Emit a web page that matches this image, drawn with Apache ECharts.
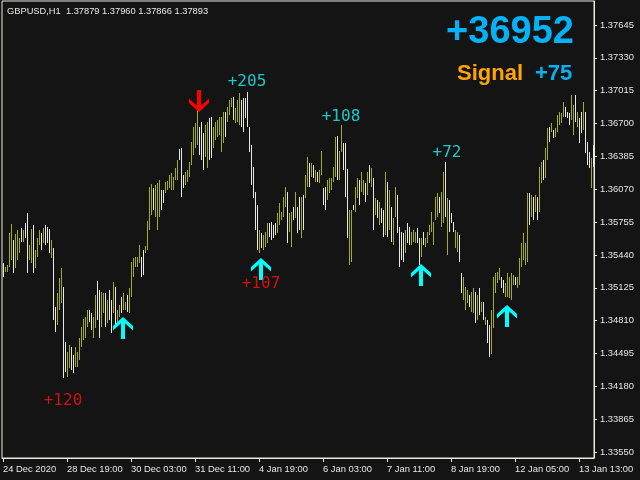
<!DOCTYPE html>
<html><head><meta charset="utf-8">
<script src="https://cdn.jsdelivr.net/npm/echarts@6/dist/echarts.min.js"></script>
<style>html,body{margin:0;padding:0;background:#141414}#c{width:640px;height:480px}</style>
</head><body><div id="c"></div>
<script>
// ---- data (GBPUSD H1) ----
const highs = [
1.35365,1.35327,1.35343,1.35646,1.35736,1.35582,1.35640,1.35678,1.35598,1.35694,
1.35678,1.35742,1.35838,1.35534,1.35688,1.35726,1.35487,1.35598,1.35678,1.35646,
1.35694,1.35726,1.35710,1.35685,1.35582,1.35503,1.34943,1.35071,1.35215,1.35311,
1.35135,1.34607,1.34511,1.34575,1.34559,1.34479,1.34559,1.34511,1.34639,1.34751,
1.34822,1.34847,1.34911,1.34911,1.34879,1.34847,1.35055,1.35189,1.35103,1.35087,
1.35071,1.35071,1.35007,1.35103,1.35007,1.35183,1.35135,1.34911,1.34959,1.35039,
1.35071,1.34991,1.35055,1.35119,1.35375,1.35407,1.35423,1.35423,1.35534,1.35423,
1.35487,1.35525,1.35768,1.36094,1.36120,1.36078,1.36110,1.36126,1.36158,1.36062,
1.36062,1.36142,1.36148,1.36206,1.36222,1.36190,1.36270,1.36350,1.36452,1.36462,
1.36206,1.36238,1.36254,1.36334,1.36526,1.36669,1.36701,1.36829,1.36669,1.36717,
1.36605,1.36685,1.36717,1.36749,1.36765,1.36669,1.36717,1.36733,1.36765,1.36765,
1.36813,1.36813,1.36861,1.36925,1.36941,1.36957,1.36845,1.36925,1.36996,1.36925,
1.36941,1.36941,1.37005,1.36669,1.36494,1.36286,1.36046,1.35918,1.35678,1.35653,
1.35630,1.35662,1.35749,1.35749,1.35758,1.35726,1.35742,1.35845,1.35934,1.35854,
1.35998,1.36094,1.36046,1.35838,1.35854,1.35902,1.36046,1.35902,1.35998,1.35998,
1.36014,1.36206,1.36382,1.36318,1.36318,1.36302,1.36254,1.36238,1.36254,1.36436,
1.36078,1.36094,1.36158,1.36174,1.36174,1.36279,1.36574,1.36580,1.36439,1.36685,
1.36510,1.36510,1.36260,1.35870,1.35870,1.35918,1.36094,1.36174,1.36158,1.36238,
1.36158,1.36126,1.36238,1.36302,1.36270,1.36174,1.35982,1.35966,1.35950,1.35886,
1.35870,1.36238,1.36142,1.36062,1.35902,1.35790,1.36094,1.36014,1.35710,1.35662,
1.35646,1.35678,1.35742,1.35710,1.35662,1.35678,1.35662,1.35694,1.35598,1.35598,
1.35662,1.35598,1.35662,1.35726,1.35854,1.35758,1.35998,1.36030,1.35998,1.36046,
1.36238,1.36334,1.35982,1.35966,1.35839,1.35758,1.35678,1.35662,1.35630,1.35263,
1.35231,1.35135,1.35103,1.35055,1.35087,1.35119,1.35087,1.35055,1.35119,1.34991,
1.34991,1.34847,1.34815,1.34767,1.34911,1.35231,1.35263,1.35279,1.35311,1.35231,
1.35199,1.35167,1.35263,1.35231,1.35263,1.35247,1.35231,1.35231,1.35407,1.35551,
1.35646,1.35551,1.36030,1.36030,1.36014,1.35998,1.36014,1.35998,1.36286,1.36334,
1.36350,1.36462,1.36653,1.36669,1.36701,1.36638,1.36653,1.36781,1.36813,1.36797,
1.36909,1.36861,1.36813,1.36797,1.36973,1.36877,1.36973,1.36813,1.36749,1.36813,
1.36909,1.36813,1.36526,1.36430,1.36366,1.36494
];
const lows = [
1.35231,1.35279,1.35279,1.35327,1.35391,1.35263,1.35311,1.35391,1.35455,1.35566,
1.35566,1.35598,1.35269,1.35391,1.35359,1.35269,1.35311,1.35423,1.35534,1.35487,
1.35550,1.35534,1.35550,1.35455,1.35407,1.34815,1.34703,1.34767,1.34911,1.34975,
1.34256,1.34320,1.34272,1.34352,1.34336,1.34304,1.34368,1.34368,1.34432,1.34559,
1.34623,1.34639,1.34751,1.34799,1.34719,1.34639,1.34735,1.34815,1.34639,1.34751,
1.34879,1.34751,1.34783,1.34815,1.34687,1.34879,1.34767,1.34783,1.34847,1.34879,
1.34911,1.34911,1.34895,1.34879,1.35039,1.35231,1.35327,1.35327,1.35359,1.35231,
1.35247,1.35455,1.35487,1.35678,1.35822,1.35870,1.35806,1.35678,1.35806,1.35870,
1.35934,1.36030,1.36062,1.36078,1.36062,1.36062,1.36158,1.36158,1.36350,1.35998,
1.36078,1.36110,1.36142,1.36190,1.36302,1.36398,1.36462,1.36494,1.36398,1.36350,
1.36254,1.36382,1.36270,1.36350,1.36366,1.36462,1.36542,1.36574,1.36590,1.36430,
1.36510,1.36574,1.36717,1.36781,1.36861,1.36733,1.36701,1.36717,1.36685,1.36669,
1.36621,1.36749,1.36669,1.36430,1.36110,1.35982,1.35678,1.35487,1.35455,1.35503,
1.35487,1.35519,1.35550,1.35614,1.35582,1.35598,1.35630,1.35646,1.35726,1.35774,
1.35806,1.35902,1.35550,1.35662,1.35519,1.35774,1.35790,1.35646,1.35678,1.35598,
1.35678,1.35982,1.36094,1.36094,1.36190,1.36174,1.36142,1.36142,1.36126,1.36206,
1.35918,1.35870,1.35966,1.36030,1.36062,1.36142,1.36190,1.36158,1.36158,1.36430,
1.36254,1.35998,1.35598,1.35343,1.35375,1.35870,1.35854,1.35982,1.35918,1.36046,
1.36014,1.35950,1.36014,1.36126,1.36094,1.35678,1.35822,1.35790,1.35726,1.35742,
1.35614,1.35630,1.35614,1.35678,1.35566,1.35534,1.35806,1.35646,1.35327,1.35391,
1.35375,1.35455,1.35550,1.35534,1.35534,1.35566,1.35550,1.35550,1.35343,1.35423,
1.35534,1.35519,1.35550,1.35630,1.35662,1.35534,1.35774,1.35806,1.35839,1.35710,
1.35742,1.35806,1.35439,1.35662,1.35742,1.35662,1.35503,1.35471,1.35375,1.35071,
1.35007,1.34911,1.34975,1.34943,1.34895,1.34879,1.34783,1.34815,1.34863,1.34895,
1.34815,1.34767,1.34591,1.34463,1.34495,1.34735,1.35071,1.35167,1.35199,1.35119,
1.35071,1.35039,1.35039,1.35023,1.35007,1.35151,1.35151,1.35119,1.35151,1.35327,
1.35391,1.35343,1.35375,1.35726,1.35806,1.35774,1.35854,1.35774,1.35854,1.36126,
1.36158,1.36174,1.36350,1.36526,1.36621,1.36558,1.36574,1.36621,1.36685,1.36701,
1.36765,1.36765,1.36749,1.36685,1.36733,1.36590,1.36717,1.36669,1.36510,1.36605,
1.36638,1.36414,1.36302,1.36270,1.36078,1.36286
];
// u = bull bar, d = bear bar
const dirs =
"duuuuduuud"+"udduuduuud"+"udddudduuu"+"dduudduuuu"+"uuudduuddu"+
"ududduduud"+"uuduuuuuud"+"duuuuduuud"+"duuuuuuudd"+"duuuuuuudd"+
"duudduuuuu"+"uduuuduuud"+"ddddddddud"+"uuudddduuu"+"uuduududdu"+
"duudududuu"+"dduuuuuduu"+"ddduuduudu"+"ududududud"+"dududuuddd"+
"dudduuuddu"+"duuuuuuudu"+"ududdduudd"+"uuuduududu"+"dudduuuuud"+
"duuuuuduuu"+"uuudududuu"+"duududuuuu"+"uddduududd"+"udddud";

const xTickIndex  = [0,32,64,96,128,160,192,224,256,288];
const xTickLabels = ['24 Dec 2020','28 Dec 19:00','30 Dec 03:00','31 Dec 11:00','4 Jan 19:00',
                     '6 Jan 03:00','7 Jan 11:00','8 Jan 19:00','12 Jan 05:00','13 Jan 13:00'];
const priceTicks = [1.37645,1.37330,1.37015,1.36700,1.36385,1.36070,1.35755,1.35440,
                    1.35125,1.34810,1.34495,1.34180,1.33865,1.33550];
const yMin = 1.33493, yMax = 1.37875;

// signals
const buyArrowBars   = [60,129,209,252];
const buyArrowPrices = [1.34739,1.35305,1.35247,1.34854];
const sellArrowBars   = [98];
const sellArrowPrices = [1.36916];
const redTexts  = ['+120','+107'];
const redBars   = [30,129];
const redPrices = [1.34039,1.35161];
const cyanTexts  = ['+205','+108','+72'];
const cyanBars   = [122,169,222];
const cyanPrices = [1.37098,1.36763,1.36417];
const headerText = 'GBPUSD,H1  1.37879 1.37960 1.37866 1.37893';
const totalText = '+36952';
const signalText = '+75';

// ---- chart ----
const cats = highs.map((_, i) => { const k = xTickIndex.indexOf(i); return k >= 0 ? xTickLabels[k] : String(i); });
const barData = highs.map((h, i) => [i, lows[i], h]);
const FG = '#ece9df', LBL = '#e4e6ea';
const UP = '#a3ad1c', DOWN = '#e8e8e8';
const upPath = 'path://M10,0 L20,9 L20,13.5 L12,6.3 L12,22 L8,22 L8,6.3 L0,13.5 L0,9 Z';
const downPath = 'path://M10,22 L20,13 L20,8.5 L12,15.7 L12,0 L8,0 L8,15.7 L0,8.5 L0,13 Z';
const isTick = (i) => xTickIndex.indexOf(i) >= 0;

const chart = echarts.init(document.getElementById('c'), null, { renderer: 'canvas' });
chart.setOption({
  backgroundColor: '#141414',
  animation: false,
  grid: { left: 2, right: 46, top: 1, bottom: 22, show: true, borderColor: FG, borderWidth: 1, backgroundColor: 'transparent' },
  xAxis: {
    type: 'category', data: cats, boundaryGap: true,
    axisLine: { show: true, lineStyle: { color: FG } },
    axisTick: { show: true, alignWithLabel: true, interval: isTick, length: 4, lineStyle: { color: FG } },
    axisLabel: { show: true, interval: isTick, align: 'left', margin: 7, color: LBL,
      fontFamily: 'Liberation Sans', fontSize: 9.4 },
    splitLine: { show: false }
  },
  yAxis: {
    type: 'value', position: 'right', min: yMin, max: yMax,
    axisLine: { show: true, lineStyle: { color: FG } },
    axisTick: { show: true, customValues: priceTicks, length: 3, lineStyle: { color: FG } },
    axisLabel: { customValues: priceTicks, formatter: (v) => v.toFixed(5), margin: 6, color: LBL,
      fontFamily: 'Liberation Sans', fontSize: 9.4, padding: [3, 0, 0, 0] },
    splitLine: { show: false }
  },
  series: [
    {
      type: 'custom', data: barData, encode: { x: 0, y: [1, 2] }, silent: true,
      renderItem: (params, api) => {
        const lo = api.coord([api.value(0), api.value(1)]);
        const hi = api.coord([api.value(0), api.value(2)]);
        const up = dirs.charAt(params.dataIndex) === 'u';
        return { type: 'rect',
          shape: { x: Math.round(lo[0]), y: Math.round(hi[1]), width: 1, height: Math.max(1, Math.round(lo[1]) - Math.round(hi[1])) },
          style: { fill: up ? UP : DOWN } };
      }
    },
    { type: 'scatter', silent: true, symbol: upPath, symbolSize: [20, 22], symbolKeepAspect: false,
      itemStyle: { color: '#00ffff', opacity: 1 }, z: 5,
      data: buyArrowBars.map((b, k) => [b, buyArrowPrices[k]]) },
    { type: 'scatter', silent: true, symbol: downPath, symbolSize: [20, 22], symbolKeepAspect: false,
      itemStyle: { color: '#ff0000', opacity: 1 }, z: 5,
      data: sellArrowBars.map((b, k) => [b, sellArrowPrices[k]]) },
    { type: 'scatter', silent: true, symbol: 'circle', symbolSize: 1, itemStyle: { color: 'transparent' }, z: 6,
      label: { show: true, position: 'inside', formatter: (p) => p.data[2], color: '#ff1010',
        fontFamily: 'DejaVu Sans Mono', fontSize: 16 },
      data: redBars.map((b, k) => [b, redPrices[k], redTexts[k]]) },
    { type: 'scatter', silent: true, symbol: 'circle', symbolSize: 1, itemStyle: { color: 'transparent' }, z: 6,
      label: { show: true, position: 'inside', formatter: (p) => p.data[2], color: '#20f4f4',
        fontFamily: 'DejaVu Sans Mono', fontSize: 16 },
      data: cyanBars.map((b, k) => [b, cyanPrices[k], cyanTexts[k]]) }
  ],
  graphic: [
    { type: 'text', x: 7, y: 11, silent: true,
      style: { text: headerText, fill: '#e8e8e8', font: '9.3px "Liberation Sans"', textAlign: 'left', textVerticalAlign: 'middle', align: 'left', verticalAlign: 'middle' } },
    { type: 'text', x: 510, y: 33, silent: true,
      style: { text: totalText, fill: '#06b2f6', font: 'bold 38px "Liberation Sans"', textAlign: 'center', textVerticalAlign: 'middle', align: 'center', verticalAlign: 'middle' } },
    { type: 'text', x: 457, y: 74, silent: true,
      style: { text: 'Signal', fill: '#ffa500', font: 'bold 22px "Liberation Sans"', textAlign: 'left', textVerticalAlign: 'middle', align: 'left', verticalAlign: 'middle' } },
    { type: 'text', x: 535, y: 74, silent: true,
      style: { text: signalText, fill: '#06b2f6', font: 'bold 22px "Liberation Sans"', textAlign: 'left', textVerticalAlign: 'middle', align: 'left', verticalAlign: 'middle' } }
  ]
});
</script>
</body></html>
